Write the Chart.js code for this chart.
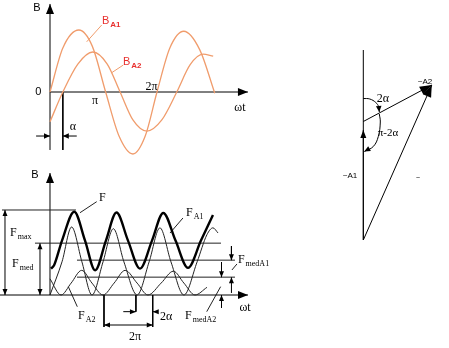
<!DOCTYPE html>
<html>
<head>
<meta charset="utf-8">
<script src="https://cdn.jsdelivr.net/npm/chart.js@4.4.1/dist/chart.umd.min.js"></script>
<style>
html, body { margin: 0; padding: 0; background: #fff; }
#wrap { position: relative; width: 449px; height: 348px; overflow: hidden; }
canvas { position: absolute; }
</style>
</head>
<body>
<div id="wrap">
  <canvas id="top" width="290" height="165" style="left:0;top:0"></canvas>
  <canvas id="bottom" width="290" height="183" style="left:0;top:165px"></canvas>
  <canvas id="phasor" width="119" height="220" style="left:330px;top:40px"></canvas>
</div>
<script>
// ---- top panel: wt in units of pi, B relative to B_A1 peak
const b1T = [0, 0.24, 0.54, 0.79, 1.04, 1.29, 1.55, 1.78, 2.0, 2.24, 2.5, 2.8, 3.08];
const b1V = [0, 0.71, 1.0, 0.74, 0, -0.71, -1.0, -0.71, 0, 0.71, 0.98, 0.68, -0.02];
const b2T = [0, 0.24, 0.52, 0.8, 1.07, 1.31, 1.55, 1.81, 2.09, 2.37, 2.62, 2.86, 3.05];
const b2V = [-0.48, 0, 0.45, 0.645, 0.45, 0, -0.45, -0.63, -0.45, 0, 0.44, 0.61, 0.58];
const alpha = 0.24;

// ---- bottom panel: force, relative to F max
const fT = [0.04, 0.17, 0.5, 1.01, 1.46, 1.88, 2.33, 2.77, 3.25, 3.75, 4.25, 4.72, 5.23, 5.75, 6.29, 6.79];
const fV = [0.31, 0.35, 0.64, 0.98, 0.64, 0.29, 0.64, 0.97, 0.64, 0.31, 0.64, 0.965, 0.64, 0.32, 0.64, 0.94];
const fA1T = [0, 0.5, 0.9, 1.33, 1.75, 2.21, 2.64, 3.08, 3.63, 4.13, 4.58, 5.04, 5.58, 6.13, 6.54, 6.79, 7.0];
const fA1V = [0, 0.39, 0.8, 0.39, 0, 0.39, 0.78, 0.39, 0, 0.39, 0.79, 0.39, 0, 0.39, 0.71, 0.79, 0.73];
const fA2T = [0, 0.46, 0.88, 1.32, 1.75, 2.21, 2.67, 3.13, 3.63, 4.08, 4.63, 5.14, 5.58, 6.04, 6.54];
const fA2V = [0.19, 0, 0.14, 0.29, 0.14, 0, 0.14, 0.29, 0.14, 0, 0.14, 0.28, 0.14, 0, 0.09];
const fMax = 1.0, fMed = 0.61, levelA1 = 0.41, levelA2 = 0.21;
const twoPiFrom = 2.25, twoPiTo = 4.28, twoAlphaAt = 3.58;

// ---- phasor diagram
const a1Tip = [0, 2.2];
const a2Base = [0, 2.37];
const a2Tip = [1.37, 3.1];
const arc2aX = [0, 0.13, 0.25, 0.31, 0.32];
const arc2aY = [2.83, 2.82, 2.75, 2.66, 2.56];
const arcPiX = [0.32, 0.34, 0.30, 0.20, 0.02];
const arcPiY = [2.52, 2.36, 2.07, 1.87, 1.77];

const SERIF = '"Liberation Serif", "DejaVu Serif", serif';
const SANS = '"Liberation Sans", Arial, sans-serif';
const ORANGE = '#f09c6c';
const RED = '#e8302e';

const xy = (xs, ys) => xs.map((x, i) => ({ x, y: ys[i] }));
const seg = (x1, y1, x2, y2) => [{ x: x1, y: y1 }, { x: x2, y: y2 }];
const line = (data, o = {}) => Object.assign({
  data, showLine: true, pointRadius: 0, borderColor: '#000', borderWidth: 1,
  tension: 0, clip: false
}, o);

// arrow heads at dataset ends
const arrowPlugin = {
  id: 'arrows',
  afterDatasetsDraw(chart) {
    const ctx = chart.ctx;
    chart.data.datasets.forEach((ds, i) => {
      if (!ds.arrow) return;
      const pts = chart.getDatasetMeta(i).data;
      const n = pts.length;
      const [len, half] = ds.arrowSize || [9, 3.5];
      const head = (tip, from) => {
        const a = Math.atan2(tip.y - from.y, tip.x - from.x);
        ctx.save();
        ctx.translate(tip.x, tip.y);
        ctx.rotate(a);
        ctx.beginPath();
        ctx.moveTo(0, 0);
        ctx.lineTo(-len, -half);
        ctx.lineTo(-len, half);
        ctx.closePath();
        ctx.fillStyle = ds.borderColor;
        ctx.fill();
        ctx.restore();
      };
      if (ds.arrow === 'end' || ds.arrow === 'both') head(pts[n - 1], pts[n - 2]);
      if (ds.arrow === 'start' || ds.arrow === 'both') head(pts[0], pts[1]);
    });
  }
};

// text labels placed in data units
function texts(items) {
  return {
    id: 'texts',
    afterDraw(chart) {
      const { ctx, scales: { x, y } } = chart;
      items.forEach(t => {
        const px = x.getPixelForValue(t.x), py = y.getPixelForValue(t.y);
        const size = t.size || 12;
        const fam = t.sans ? SANS : SERIF;
        ctx.save();
        ctx.fillStyle = t.color || '#000';
        ctx.textBaseline = 'middle';
        ctx.textAlign = 'left';
        ctx.font = `${size}px ${fam}`;
        const w = ctx.measureText(t.text).width;
        const left = t.left ? px : px - w / 2;
        ctx.fillText(t.text, left, py);
        if (t.sub) {
          ctx.font = `${t.subBold ? 'bold ' : ''}${Math.round(size * (t.subScale || 0.68))}px ${fam}`;
          ctx.fillText(t.sub, left + w + 1, py + size * 0.35);
        }
        ctx.restore();
      });
    }
  };
}

function draw(id, xr, yr, datasets, labels) {
  new Chart(document.getElementById(id), {
    type: 'scatter',
    data: { datasets },
    options: {
      responsive: false,
      animation: false,
      devicePixelRatio: 1,
      events: [],
      layout: { padding: 0 },
      scales: {
        x: { type: 'linear', min: xr[0], max: xr[1], display: false },
        y: { type: 'linear', min: yr[0], max: yr[1], display: false }
      },
      plugins: { legend: { display: false }, tooltip: { enabled: false } }
    },
    plugins: [arrowPlugin, texts(labels)]
  });
}

// ---- top: B_A1, B_A2
draw('top', [-0.9346, 4.486], [-1.1774, 1.4839], [
  line(xy(b1T, b1V), { borderColor: ORANGE, borderWidth: 1.3, cubicInterpolationMode: 'monotone' }),
  line(xy(b2T, b2V), { borderColor: ORANGE, borderWidth: 1.3, cubicInterpolationMode: 'monotone' }),
  line(seg(0, -0.935, 0, 1.42), { arrow: 'end', arrowSize: [10, 4] }),
  line(seg(0, 0, 3.7, 0), { arrow: 'end', arrowSize: [10, 4] }),
  line(seg(alpha, 0, alpha, -0.935)),
  line(seg(-0.26, -0.71, 0, -0.71), { arrow: 'end', arrowSize: [6, 2.8] }),
  line(seg(0.5, -0.71, alpha, -0.71), { arrow: 'end', arrowSize: [6, 2.8] }),
  line(seg(0.966, 1.08, 0.686, 0.81), { borderColor: ORANGE }),
  line(seg(1.37, 0.435, 1.153, 0.311), { borderColor: ORANGE })
], [
  { text: 'B', x: -0.243, y: 1.355, sans: true, size: 11 },
  { text: '0', x: -0.22, y: 0, sans: true, size: 11 },
  { text: 'π', x: 0.84, y: -0.145 },
  { text: '2π', x: 1.9, y: 0.08 },
  { text: 'ωt', x: 3.55, y: -0.26 },
  { text: 'α', x: 0.43, y: -0.565 },
  { text: 'B', sub: 'A1', x: 0.972, y: 1.145, left: true, sans: true, size: 11, color: RED, subBold: true, subScale: 0.72 },
  { text: 'B', sub: 'A2', x: 1.364, y: 0.484, left: true, sans: true, size: 11, color: RED, subBold: true, subScale: 0.72 }
]);

// ---- bottom: F, F_A1, F_A2
const dim = [6, 2.5];
draw('bottom', [-2.0833, 10.0], [-0.6235, 1.5294], [
  line(xy(fT, fV), { borderWidth: 2.4, cubicInterpolationMode: 'monotone' }),
  line(xy(fA1T, fA1V), { borderColor: '#222', cubicInterpolationMode: 'monotone' }),
  line(xy(fA2T, fA2V), { borderColor: '#222', cubicInterpolationMode: 'monotone' }),
  line(seg(-2.0, fMax, 1.083, fMax), { borderColor: '#222' }),
  line(seg(-0.625, fMed, 7.125, fMed), { borderColor: '#222' }),
  line(seg(1.125, levelA1, 7.708, levelA1), { borderColor: '#222' }),
  line(seg(1.125, levelA2, 7.708, levelA2), { borderColor: '#222' }),
  line(seg(-2.083, 0, 8.25, 0), { arrow: 'end', arrowSize: [10, 4] }),
  line(seg(0, 0, 0, 1.435), { arrow: 'end', arrowSize: [10, 4] }),
  line(seg(-1.875, 0, -1.875, fMax), { arrow: 'both', arrowSize: dim }),
  line(seg(-0.417, 0, -0.417, fMed), { arrow: 'both', arrowSize: dim }),
  line(seg(7.56, 0.576, 7.56, levelA1), { arrow: 'end', arrowSize: dim }),
  line(seg(7.56, 0.024, 7.56, levelA2), { arrow: 'end', arrowSize: dim }),
  line(seg(7.146, 0.388, 7.146, levelA2), { arrow: 'end', arrowSize: dim }),
  line(seg(7.146, -0.153, 7.146, 0), { arrow: 'end', arrowSize: dim }),
  line(seg(twoPiFrom, 0, twoPiFrom, -0.376)),
  line(seg(twoPiTo, 0, twoPiTo, -0.376)),
  line(seg(twoPiFrom, -0.353, twoPiTo, -0.353), { arrow: 'both', arrowSize: dim }),
  line(seg(twoAlphaAt, 0, twoAlphaAt, -0.196)),
  line(seg(3.054, -0.196, twoAlphaAt, -0.196), { arrow: 'end', arrowSize: dim }),
  line(seg(4.5, -0.196, twoPiTo, -0.196), { arrow: 'end', arrowSize: dim }),
  line(seg(1.946, 1.098, 1.25, 0.968), { borderColor: '#222' }),
  line(seg(5.54, 0.906, 5.0, 0.729), { borderColor: '#222' }),
  line(seg(7.79, 0.365, 7.58, 0.294), { borderColor: '#222' }),
  line(seg(0.763, 0.098, 1.138, -0.138), { borderColor: '#222' }),
  line(seg(6.53, -0.196, 7.11, 0.098), { borderColor: '#222' })
], [
  { text: 'B', x: -0.625, y: 1.41, sans: true, size: 11 },
  { text: 'F', x: 2.04, y: 1.14, left: true },
  { text: 'F', sub: 'max', x: -1.667, y: 0.73, left: true },
  { text: 'F', sub: 'med', x: -1.583, y: 0.365, left: true },
  { text: 'F', sub: 'A1', x: 5.667, y: 0.965, left: true },
  { text: 'F', sub: 'medA1', x: 7.83, y: 0.412, left: true },
  { text: 'F', sub: 'A2', x: 1.167, y: -0.247, left: true },
  { text: 'F', sub: 'medA2', x: 5.625, y: -0.247, left: true },
  { text: 'ωt', x: 8.125, y: -0.153 },
  { text: '2α', x: 4.583, y: -0.259, left: true },
  { text: '2π', x: 3.54, y: -0.494 }
]);

// ---- phasor diagram
draw('phasor', [-0.666, 1.714], [-0.4, 4.0], [
  line(seg(0, 0, 0, 3.8)),
  line(seg(0, 0, a1Tip[0], a1Tip[1]), { arrow: 'end', arrowSize: [8, 3] }),
  line(seg(a2Base[0], a2Base[1], a2Tip[0], a2Tip[1]), { arrow: 'end', arrowSize: [12, 4.5] }),
  line(seg(0, 0, a2Tip[0], a2Tip[1]), { arrow: 'end', arrowSize: [12, 4.5] }),
  line(xy(arc2aX, arc2aY), { tension: 0.4, arrow: 'end', arrowSize: [6, 2.8] }),
  line(xy(arcPiX, arcPiY), { tension: 0.4, arrow: 'end', arrowSize: [6, 2.8] })
], [
  { text: '~A2', x: 1.234, y: 3.166, size: 8, sans: true },
  { text: '~A1', x: -0.266, y: 1.28, size: 8, sans: true },
  { text: '~', x: 1.094, y: 1.24, size: 7, sans: true },
  { text: '2α', x: 0.394, y: 2.83 },
  { text: 'π-2α', x: 0.494, y: 2.14, size: 11 }
]);
</script>
</body>
</html>
